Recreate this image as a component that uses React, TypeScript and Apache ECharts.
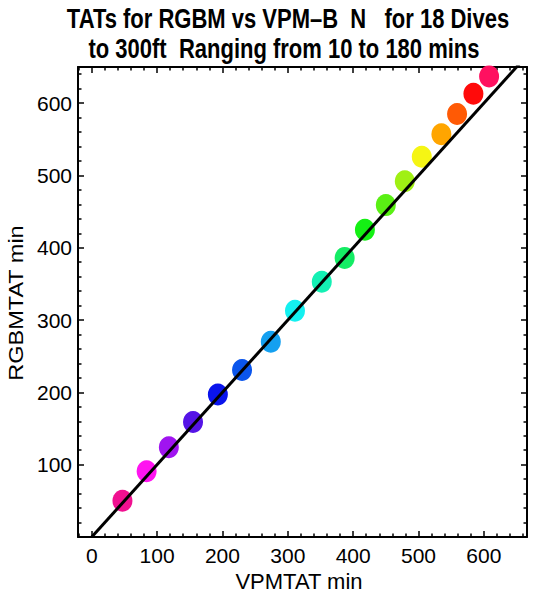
import React, { useEffect, useRef } from "react";
import * as echarts from "echarts";

// Data (x = VPM-B TAT, y = RGBM TAT, minutes)
const vpmTat = [47, 84, 118, 155, 193, 230, 274, 311, 352, 387, 418, 450, 479, 505, 535, 559, 584, 608];
const rgbmTat = [50, 91, 124, 159, 197, 231, 270, 313, 353, 386, 425, 459, 492, 526, 557, 585, 613, 637];
const refLineX = [0, 700];
const refLineY = [0, 700];
const titleLines = ["TATs for RGBM vs VPM\u2013B  N   for 18 Dives", "to 300ft  Ranging from 10 to 180 mins"];
const xTitle = "VPMTAT min";
const yTitle = "RGBMTAT min";

const pointColors = [
  "#f01090", "#ff14f0", "#a014f0", "#5514e6", "#0a14ec", "#0a55ec",
  "#14a0f0", "#14f0f0", "#14f0b4", "#14ec64", "#14f014", "#5af014",
  "#a0f014", "#f5f514", "#ffa500", "#ff5a05", "#ff0a0a", "#ff1060",
];

const FONT = "'Liberation Sans', Arial, sans-serif";

export default function App() {
  const ref = useRef<HTMLDivElement>(null);
  useEffect(() => {
    if (!ref.current) return;
    const chart = echarts.init(ref.current, null, { renderer: "svg" });
    const axisCommon = (show: boolean) => ({
      type: "value" as const,
      splitLine: { show: false },
      axisLine: { show: true, onZero: false, lineStyle: { color: "#000", width: 2 } },
      axisTick: { show: true, inside: true, length: 6, lineStyle: { color: "#000", width: 1.5 } },
      minorTick: { show: true, splitNumber: 5, length: 3.5, lineStyle: { color: "#000", width: 1.5 } },
      minorSplitLine: { show: false },
      axisLabel: {
        show,
        showMinLabel: false,
        showMaxLabel: false,
        color: "#000",
        fontFamily: FONT,
        fontSize: 21,
      },
    });
    chart.setOption({
      animation: false,
      backgroundColor: "#fff",
      grid: { left: 78, right: 14, top: 67, bottom: 57, containLabel: false },
      xAxis: [
        { ...axisCommon(true), position: "bottom", min: -21, max: 666, splitNumber: 5, axisLabel: { ...axisCommon(true).axisLabel, margin: 8 } },
        { ...axisCommon(false), position: "top", min: -21, max: 666, splitNumber: 5 },
      ],
      yAxis: [
        { ...axisCommon(true), position: "left", min: 0, max: 650, interval: 100, axisLabel: { ...axisCommon(true).axisLabel, margin: 6 } },
        { ...axisCommon(false), position: "right", min: 0, max: 650, interval: 100 },
      ],
      series: [
        {
          type: "scatter",
          xAxisIndex: 0,
          yAxisIndex: 0,
          z: 2,
          symbol: "circle",
          symbolSize: [20, 22],
          data: vpmTat.map((x, i) => [x, rgbmTat[i]]),
          itemStyle: { color: (p: any) => pointColors[p.dataIndex], opacity: 1 },
        },
        {
          type: "line",
          xAxisIndex: 0,
          yAxisIndex: 0,
          z: 3,
          clip: true,
          showSymbol: false,
          symbol: "none",
          data: refLineX.map((x, i) => [x, refLineY[i]]),
          lineStyle: { color: "#000", width: 3 },
        },
      ],
      graphic: [
        {
          type: "text",
          x: 288,
          y: 18,
          scaleY: 1.25,
          style: { text: titleLines[0], font: `bold 22px ${FONT}`, fill: "#000", textAlign: "center", textVerticalAlign: "middle" },
        },
        {
          type: "text",
          x: 284,
          y: 48,
          scaleY: 1.25,
          style: { text: titleLines[1], font: `bold 22px ${FONT}`, fill: "#000", textAlign: "center", textVerticalAlign: "middle" },
        },
        {
          type: "text",
          x: 299,
          y: 581,
          style: { text: xTitle, font: `22px ${FONT}`, fill: "#000", textAlign: "center", textVerticalAlign: "middle" },
        },
        {
          type: "text",
          x: 16,
          y: 303,
          rotation: Math.PI / 2,
          scaleX: 1.12,
          style: { text: yTitle, font: `21px ${FONT}`, fill: "#000", textAlign: "center", textVerticalAlign: "middle" },
        },
      ],
    });
    return () => chart.dispose();
  }, []);
  return (
    <div
      ref={ref}
      style={{ position: "fixed", left: 0, top: 0, width: 541, height: 594, background: "#fff" }}
    />
  );
}
